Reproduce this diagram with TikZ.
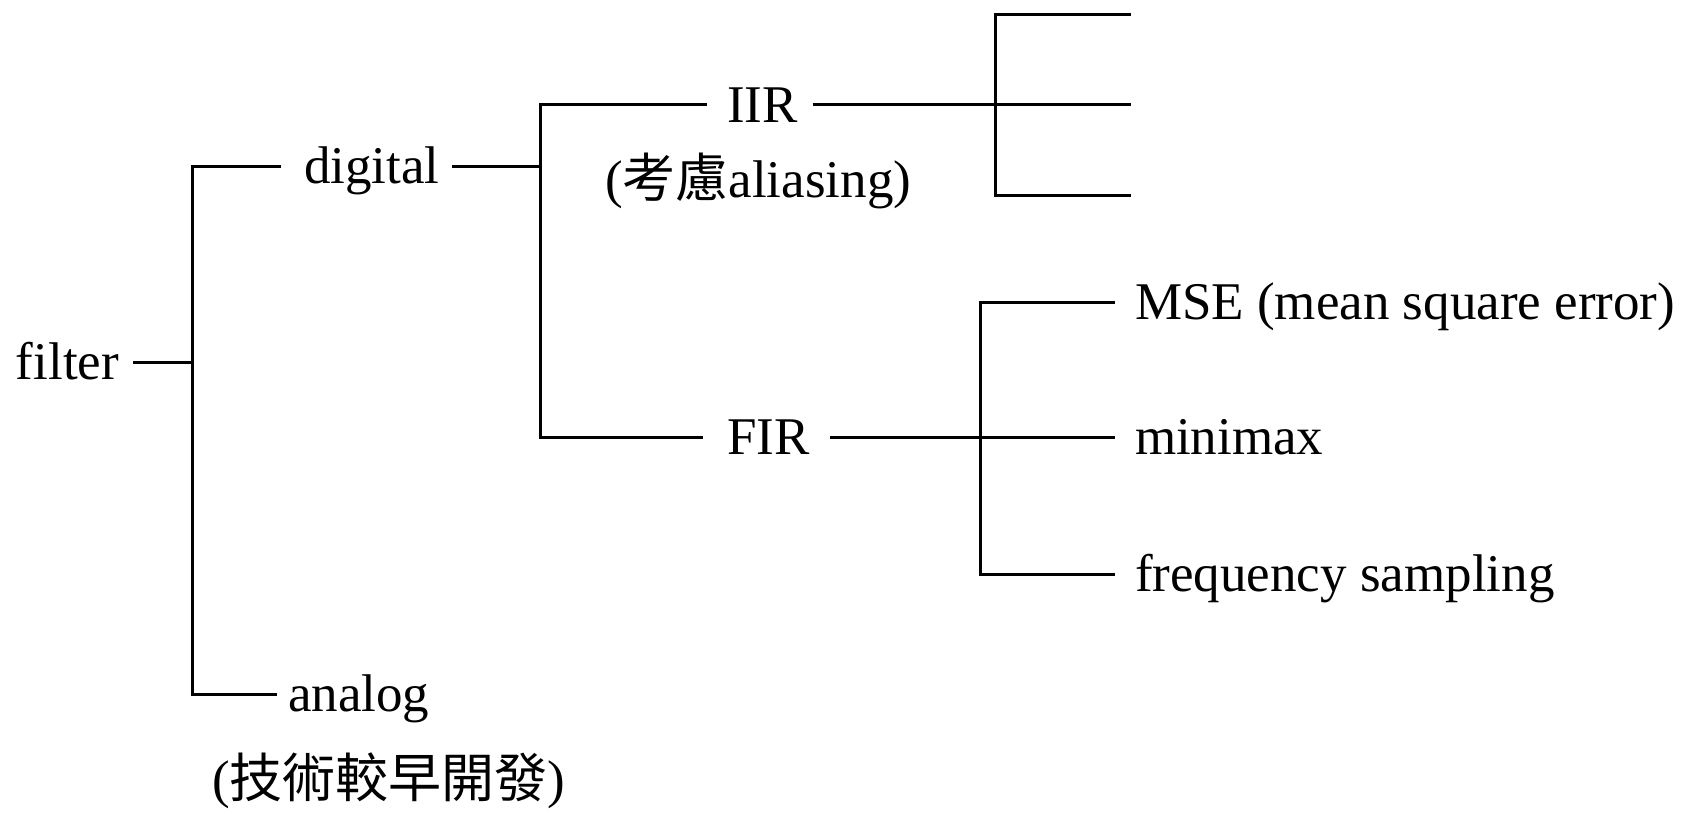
\documentclass[tikz,border=0pt]{standalone}
\usepackage{fontspec}
\setmainfont{Liberation Serif}
\newfontfamily\cjk{Noto Sans CJK TC}
\begin{document}
\begin{tikzpicture}[x=0.5pt,y=-0.5pt,
  lbl/.style={anchor=west,inner sep=0pt,outer sep=0pt,text height=18pt,text depth=1pt,
    font=\fontsize{26.5}{30}\selectfont},
  wire/.style={line width=1.5pt}]
\useasboundingbox (0,0) rectangle (1684,813);
% text nodes
\node[lbl] (filter)  at (16,362)   {filter};
\node[lbl] (digital) at (304,166)  {digital};
\node[lbl] (analog)  at (288,694)  {analog};
\node[lbl] (early)   at (212,780)  {({\cjk 技術較早開發})};
\node[lbl] (iir)     at (727,105)  {IIR};
\node[lbl] (alias)   at (605,180)  {({\cjk 考慮}aliasing)};
\node[lbl] (fir)     at (727,437)  {FIR};
\node[lbl] (mse)     at (1135,302) {MSE (mean square error)};
\node[lbl] (minimax) at (1135,437) {minimax};
\node[lbl] (freq)    at (1135,574) {frequency sampling};
% junctions
\coordinate (j1t) at (192,166);
\coordinate (j1m) at (192,362);
\coordinate (j1b) at (192,694);
\coordinate (j2t) at (540,105);
\coordinate (j2m) at (540,166);
\coordinate (j2b) at (540,437);
\coordinate (j3t) at (995,15);
\coordinate (j3m) at (995,105);
\coordinate (j3b) at (995,195);
\coordinate (e1) at (1131,15);
\coordinate (e2) at (1131,105);
\coordinate (e3) at (1131,195);
\coordinate (j4t) at (980,302);
\coordinate (j4m) at (980,437);
\coordinate (j4b) at (980,574);
% connectors
\draw[wire] ([xshift=7pt]filter.east) -- (j1m);
\draw[wire] ([xshift=-11.5pt]digital.west) -- (j1t) -- (j1b) -- ([xshift=-5.5pt]analog.west);
\draw[wire] ([xshift=6.5pt]digital.east) -- (j2m);
\draw[wire] ([xshift=-10pt]iir.west) -- (j2t) -- (j2b) -- ([xshift=-12pt]fir.west);
\draw[wire] ([xshift=7.5pt]iir.east) -- (e2);
\draw[wire] (e1) -- (j3t) -- (j3b) -- (e3);
\draw[wire] ([xshift=10.5pt]fir.east) -- ([xshift=-10pt]minimax.west);
\draw[wire] ([xshift=-10pt]mse.west) -- (j4t) -- (j4b) -- ([xshift=-10pt]freq.west);
\end{tikzpicture}
\end{document}
